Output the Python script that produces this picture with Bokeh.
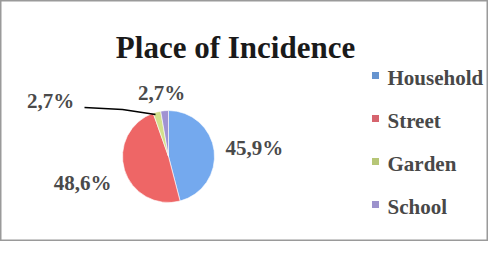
import math
import numpy as np
from bokeh.plotting import figure
from bokeh.models import Range1d, ColumnDataSource
from bokeh.core.properties import value
from bokeh.embed import file_html
from bokeh.resources import INLINE

# ---- data ----
categories = ["Household", "Street", "Garden", "School"]
shares = [45.9, 48.6, 2.7, 2.7]
labels = ["45,9%", "48,6%", "2,7%", "2,7%"]
title_text = "Place of Incidence"

slice_colors = ["#74a9ee", "#ee6666", "#d2e08c", "#a092d2"]
legend_colors = ["#6694cf", "#d6646e", "#b6c676", "#9c92cc"]

W, H = 488, 241
p = figure(width=W, height=H, output_backend="svg", toolbar_location=None,
           x_range=Range1d(0, W), y_range=Range1d(0, H), min_border=0)
p.axis.visible = False
p.grid.visible = False
p.background_fill_color = "white"
p.border_fill_color = "white"
p.outline_line_color = "#9a9a9a"
p.outline_line_width = 2

# pie geometry
cx, cy, r = 168, 85, 46
vals = np.array(shares)
frac = vals / vals.sum()
cum = np.concatenate([[0], np.cumsum(frac)])
start = math.pi / 2 - 2 * math.pi * cum[:-1]
end = math.pi / 2 - 2 * math.pi * cum[1:]
src = ColumnDataSource(dict(start=start, end=end, color=slice_colors))
p.wedge(x=cx, y=cy, radius=r, start_angle="start", end_angle="end",
        direction="clock", fill_color="color", line_color="white",
        line_width=0.6, source=src)

# title
p.text(x=[235], y=[194], text=[title_text], text_font=value("Liberation Serif"),
       text_font_style="bold", text_font_size="31px", text_color="#1a1a1a",
       text_align="center", text_baseline="middle")

# data labels (offsets from pie centre)
lab_dx = [57, -86, -118, -7]
lab_dy = [9, -26, 56, 64]
lab_align = ["left", "center", "center", "center"]
for i in range(len(labels)):
    p.text(x=[cx + lab_dx[i]], y=[cy + lab_dy[i]], text=[labels[i]],
           text_font=value("Liberation Serif"), text_font_style="bold",
           text_font_size="21px", text_color="#4a4a4a",
           text_align=lab_align[i], text_baseline="middle")

# leader line for Garden label
p.line(x=[cx - 84, cx - 46, cx - 13], y=[cy + 49, cy + 47, cy + 42],
       line_color="black", line_width=1.6)

# legend
leg_x, leg_y0, leg_dy = 375, 166, 43
for i, c in enumerate(categories):
    yy = leg_y0 - i * leg_dy
    p.scatter(x=[leg_x], y=[yy], marker="square", size=7,
              fill_color=legend_colors[i], line_color=None)
    p.text(x=[leg_x + 12], y=[yy - 2], text=[c],
           text_font=value("Liberation Serif"), text_font_style="bold",
           text_font_size="21px", text_color="#484848",
           text_align="left", text_baseline="middle")

open("out.html", "w").write(file_html(p, INLINE))
